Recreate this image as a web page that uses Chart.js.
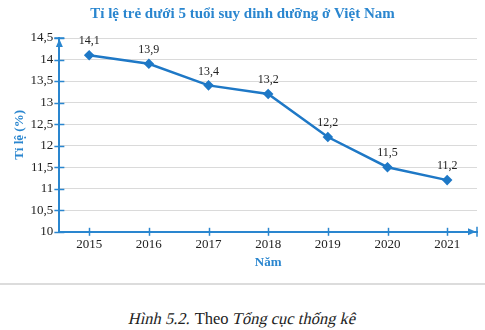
<!DOCTYPE html>
<html>
<head>
<meta charset="utf-8">
<script src="https://cdn.jsdelivr.net/npm/chart.js@4.4.0/dist/chart.umd.min.js"></script>
<style>
  body { margin: 0; background: #fff; width: 485px; height: 330px; overflow: hidden; }
  #wrap { position: relative; width: 485px; height: 280px; }
  .sep { position: absolute; left: 0; top: 283px; width: 485px; height: 2px; background: #dcdcdc; }
  .caption { position: absolute; left: 0; top: 309px; width: 485px; text-align: center;
    font-family: "Liberation Serif", serif; font-size: 16.5px; color: #222; }
  .caption .it { display: inline-block; transform: skewX(-13deg); }
</style>
</head>
<body>
<div id="wrap"><canvas id="myChart"></canvas></div>
<div class="sep"></div>
<div class="caption"><span class="it">Hình 5.2.</span> Theo <span class="it">Tổng cục thống kê</span></div>
<script>
// số liệu
const years = ['2015', '2016', '2017', '2018', '2019', '2020', '2021'];
const tiLe = [14.1, 13.9, 13.4, 13.2, 12.2, 11.5, 11.2];
const yTicks = [10, 10.5, 11, 11.5, 12, 12.5, 13, 13.5, 14, 14.5];

const blue = '#2a86cf';
const lineBlue = '#1e78c6';
const serif = '"Liberation Serif", "DejaVu Serif", serif';
const fmt = v => String(v).replace('.', ',');

// nhãn số liệu, vạch chia và mũi tên trục
const extras = {
  id: 'extras',
  afterDatasetsDraw(chart) {
    const { ctx, chartArea: a, scales: { x, y } } = chart;
    ctx.save();
    ctx.strokeStyle = blue;
    ctx.fillStyle = blue;
    ctx.lineWidth = 1.5;
    // vạch chia trục tung
    yTicks.forEach(v => {
      const py = Math.round(y.getPixelForValue(v)) + 0.5;
      ctx.beginPath(); ctx.moveTo(a.left - 5, py); ctx.lineTo(a.left + 5, py); ctx.stroke();
    });
    // vạch chia trục hoành
    years.forEach((_, i) => {
      const px = Math.round(x.getPixelForValue(i)) + 0.5;
      ctx.beginPath(); ctx.moveTo(px, a.bottom - 4); ctx.lineTo(px, a.bottom + 4); ctx.stroke();
    });
    // mũi tên lên
    const top = a.top;
    ctx.beginPath(); ctx.moveTo(a.left - 5, top); ctx.lineTo(a.left + 5, top); ctx.stroke();
    ctx.beginPath(); ctx.moveTo(a.left, top + 1); ctx.lineTo(a.left - 3.5, top + 9); ctx.lineTo(a.left + 3.5, top + 9); ctx.closePath(); ctx.fill();
    // mũi tên sang phải
    const r = a.right;
    ctx.beginPath(); ctx.moveTo(r, a.bottom - 5); ctx.lineTo(r, a.bottom + 5); ctx.stroke();
    ctx.beginPath(); ctx.moveTo(r - 1, a.bottom); ctx.lineTo(r - 9, a.bottom - 3.5); ctx.lineTo(r - 9, a.bottom + 3.5); ctx.closePath(); ctx.fill();
    // nhãn giá trị
    ctx.fillStyle = '#222';
    ctx.font = '12px ' + serif;
    ctx.textAlign = 'center';
    ctx.textBaseline = 'bottom';
    chart.getDatasetMeta(0).data.forEach((pt, i) => {
      ctx.fillText(fmt(tiLe[i]), pt.x, pt.y - 8);
    });
    ctx.restore();
  }
};

const ctx = document.getElementById('myChart');

new Chart(ctx, {
  type: 'line',
  data: {
    labels: years,
    datasets: [{
      data: tiLe,
      borderColor: lineBlue,
      backgroundColor: lineBlue,
      borderWidth: 2.5,
      pointStyle: 'rectRot',
      pointRadius: 3.5,
      tension: 0
    }]
  },
  options: {
    responsive: true,
    maintainAspectRatio: false,
    animation: false,
    layout: { padding: { left: 8, right: 8, top: 0, bottom: 6 } },
    plugins: {
      legend: { display: false },
      tooltip: { enabled: false },
      title: {
        display: true,
        text: 'Tỉ lệ trẻ dưới 5 tuổi suy dinh dưỡng ở Việt Nam',
        color: blue,
        font: { family: serif, size: 15, weight: 'bold' },
        padding: { top: 5, bottom: 15 }
      }
    },
    scales: {
      x: {
        offset: true,
        grid: { display: false, drawTicks: false },
        border: { color: blue, width: 2 },
        ticks: { color: '#222', font: { family: serif, size: 13 }, padding: 5 },
        title: {
          display: true, text: 'Năm', color: blue,
          font: { family: serif, size: 13, weight: 'bold' }, padding: { top: -3 }
        }
      },
      y: {
        min: 10, max: 14.5,
        afterBuildTicks: axis => { axis.ticks = yTicks.map(v => ({ value: v })); },
        grid: { color: '#dadada', drawTicks: false },
        border: { color: blue, width: 2 },
        ticks: { color: '#222', font: { family: serif, size: 13 }, padding: 6, callback: v => fmt(v) },
        title: {
          display: true, text: 'Tỉ lệ (%)', color: blue,
          font: { family: serif, size: 13, weight: 'bold' }, padding: { bottom: -3 }
        }
      }
    }
  },
  plugins: [extras]
});
</script>
</body>
</html>
